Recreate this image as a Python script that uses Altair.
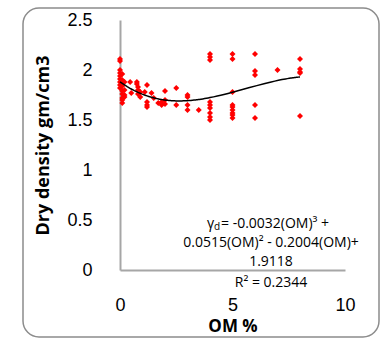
import altair as alt
import pandas as pd

# Organic matter (%) and dry density (gm/cm3)
om = [0, 0, 0, 0, 0, 0, 0, 0, 0,
      0.1, 0.1, 0.1, 0.1, 0.1, 0.1, 0.1, 0.1,
      0.2, 0.2, 0.2, 0.2,
      0.45, 0.5, 0.75, 0.75, 0.8, 0.8, 0.8, 0.9, 0.9,
      1.1, 1.2, 1.2, 1.2, 1.2, 1.4, 1.5, 1.7, 1.85, 1.85,
      2.0, 2.0, 2.0, 2.5, 2.5, 3.0, 3.0, 3.0, 3.0, 3.5,
      4, 4, 4, 4, 4, 4, 4, 4, 4,
      5, 5, 5, 5, 5, 5, 5, 5, 5,
      6, 6, 6, 6, 6,
      7,
      8, 8, 8, 8, 8]
dd = [2.11, 2.09, 2.00, 1.97, 1.94, 1.91, 1.88, 1.85, 1.82,
      1.96, 1.90, 1.84, 1.79, 1.76, 1.72, 1.70, 1.67,
      1.88, 1.80, 1.75, 1.73,
      1.88, 1.77, 1.88, 1.86, 1.83, 1.80, 1.76, 1.73, 1.78,
      1.78, 1.85, 1.68, 1.65, 1.63, 1.77, 1.72, 1.67, 1.65, 1.68,
      1.79, 1.70, 1.66, 1.82, 1.65, 1.75, 1.73, 1.65, 1.60, 1.60,
      2.16, 2.13, 2.10, 1.68, 1.65, 1.62, 1.57, 1.53, 1.50,
      2.16, 2.11, 1.78, 1.65, 1.63, 1.60, 1.57, 1.55, 1.52,
      2.16, 1.99, 1.95, 1.65, 1.52,
      2.00,
      2.11, 2.01, 1.98, 1.97, 1.54]

x_ticks = [0, 5, 10]
y_ticks = [0, 0.5, 1, 1.5, 2, 2.5]

eq_lines = ["0.0515(OM)² - 0.2004(OM)+", "1.9118", "R² = 0.2344"]
eq_first = ["γ", "d", "= -0.0032(OM)³ +"]

df = pd.DataFrame({"om": om, "dd": dd})

FONT_T = "Liberation Sans"
FONT_C = "Open Sans"

x_enc = alt.X("om:Q", scale=alt.Scale(domain=[0, 10], nice=False),
              axis=alt.Axis(values=x_ticks, format="d", title="OM %",
                            labelPadding=26, titlePadding=4, labelFlush=False))
y_enc = alt.Y("dd:Q", scale=alt.Scale(domain=[0, 2.5], nice=False),
              axis=alt.Axis(values=y_ticks, format=".1~f", title="Dry density gm/cm3",
                            labelPadding=28, titlePadding=14, labelFlush=False,
                            titleFontSize=18))

border = alt.Chart(alt.Data(values=[{"a": 1}])).mark_rect(
    fill=None, stroke="#8c8c8c", strokeWidth=1.5, cornerRadius=16, clip=False
).encode(x=alt.value(-97), x2=alt.value(259), y=alt.value(-12), y2=alt.value(317))

points = alt.Chart(df).mark_point(
    shape="diamond", filled=True, color="#ff0000", size=36, opacity=1
).encode(x=x_enc, y=y_enc)

trend = alt.Chart(df).transform_regression(
    "om", "dd", method="poly", order=3, extent=[0, 8]
).mark_line(color="black", strokeWidth=1.5).encode(x="om:Q", y="dd:Q")

# first equation line built from separate parts (subscript d)
line1_parts = []
for t, px, py, fs in zip(eq_first, [87, 94, 101], [204, 207, 204], [14, 10, 14]):
    line1_parts.append(
        alt.Chart(alt.Data(values=[{"t": t}])).mark_text(
            font=FONT_C, fontSize=fs, color="black", align="left", baseline="middle", clip=False
        ).encode(text="t:N", x=alt.value(px), y=alt.value(py))
    )

eq_df = pd.DataFrame({"t": eq_lines, "py": [223, 242, 263]})
eq_text = alt.Chart(eq_df).mark_text(
    font=FONT_C, fontSize=14, color="black", align="center", baseline="middle", clip=False
).encode(text="t:N", x=alt.value(151), y=alt.Y("py:Q", scale=None))

chart = alt.layer(border, points, trend, eq_text, *line1_parts).properties(
    width=225, height=250,
    autosize=alt.AutoSizeParams(type="none"),
    padding={"left": 120, "top": 20, "right": 39, "bottom": 77},
    background="white"
).configure_view(stroke=None).configure_axis(
    grid=False, ticks=False, domainColor="#a6a6a6", domainWidth=2,
    labelFont=FONT_T, labelFontSize=18, labelColor="black",
    titleFont=FONT_C, titleFontSize=17, titleFontWeight="bold", titleColor="black"
)

chart.save("out.html", embed_options={"renderer": "svg", "actions": False})
